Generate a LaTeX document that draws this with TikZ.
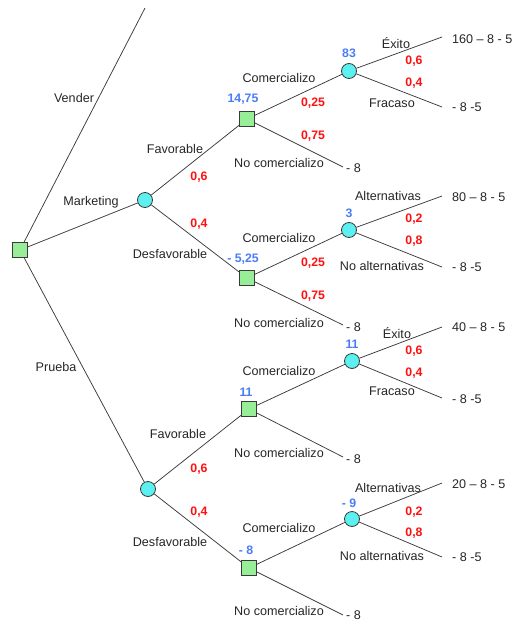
\documentclass[tikz,border=0pt]{standalone}
\usepackage{fontspec}
\setmainfont{Liberation Sans}
\definecolor{sqgreen}{HTML}{98EE98}
\definecolor{chcyan}{HTML}{5CF0F0}
\definecolor{valblue}{HTML}{4A7CF5}
\definecolor{probred}{HTML}{FF1010}
\definecolor{linegray}{HTML}{3A3A3A}
\begin{document}
\begin{tikzpicture}[x=1pt,y=-1pt,
  sq/.style={draw=linegray, fill=sqgreen, rectangle, minimum size=15pt, inner sep=0pt, line width=0.8pt},
  ch/.style={draw=linegray, fill=chcyan, circle, minimum size=15pt, inner sep=0pt, line width=0.8pt},
  edge/.style={draw=linegray, line width=0.75pt},
  lbl/.style={font=\fontsize{12.6}{14}\selectfont, text=black!85, inner sep=0pt},
  prob/.style={font=\bfseries\fontsize{12.3}{14}\selectfont, text=probred, inner sep=0pt},
  val/.style={font=\bfseries\fontsize{12.3}{14}\selectfont, text=valblue, inner sep=0pt},
  term/.style={font=\fontsize{12.6}{14}\selectfont, text=black!85, inner sep=0pt, anchor=west}]
\useasboundingbox (0,0) rectangle (513,624);
% decision and chance nodes
\node[sq] (r) at (20,250) {};
\coordinate (v) at (145,8);
\node[ch] (m) at (145,200) {};
\node[ch] (p) at (148,489) {};
\node[sq] (mf) at (247,119) {};
\node[sq] (md) at (247,278) {};
\node[sq] (pf) at (249,409) {};
\node[sq] (pd) at (249,568) {};
\node[ch] (c1) at (349,71) {};
\node[ch] (c2) at (349,230) {};
\node[ch] (c3) at (352,361) {};
\node[ch] (c4) at (352,519) {};
% end points
\coordinate (e1a) at (442,37);  \coordinate (e1b) at (442,107);
\coordinate (n1) at (343,167);
\coordinate (e2a) at (442,196); \coordinate (e2b) at (442,267);
\coordinate (n2) at (343,325);
\coordinate (e3a) at (442,327); \coordinate (e3b) at (442,398);
\coordinate (n3) at (343,457);
\coordinate (e4a) at (442,483); \coordinate (e4b) at (442,557);
\coordinate (n4) at (343,615);
% connectors
\draw[edge] (r) -- (v);
\draw[edge] (r) -- (m);
\draw[edge] (r) -- (p);
\draw[edge] (m) -- (mf);
\draw[edge] (m) -- (md);
\draw[edge] (p) -- (pf);
\draw[edge] (p) -- (pd);
\draw[edge] (mf) -- (c1);
\draw[edge] (mf) -- (n1);
\draw[edge] (md) -- (c2);
\draw[edge] (md) -- (n2);
\draw[edge] (pf) -- (c3);
\draw[edge] (pf) -- (n3);
\draw[edge] (pd) -- (c4);
\draw[edge] (pd) -- (n4);
\draw[edge] (c1) -- (e1a);
\draw[edge] (c1) -- (e1b);
\draw[edge] (c2) -- (e2a);
\draw[edge] (c2) -- (e2b);
\draw[edge] (c3) -- (e3a);
\draw[edge] (c3) -- (e3b);
\draw[edge] (c4) -- (e4a);
\draw[edge] (c4) -- (e4b);
% first level labels
\node[lbl] (tv) at (74,98) {Vender};
\node[lbl] (tm) at (91,202) {Marketing};
\node[lbl] (tp) at (56,367) {Prueba};
% marketing branch
\node[lbl] (tmf) at (175,149) {Favorable};
\node[prob] (pmf) at (199,177) {0,6};
\node[prob] (pmd) at (199,224) {0,4};
\node[lbl] (tmd) at (170,254) {Desfavorable};
\node[val] (vmf) at (243,99) {14,75};
\node[val] (vmd) at (243,259) {- 5,25};
\node[lbl] (tc1) at (279,78) {Comercializo};
\node[prob] (p25a) at (313,103) {0,25};
\node[prob] (p75a) at (313,136) {0,75};
\node[lbl] (tnc1) at (279,163) {No comercializo};
\node[term] (tn1) at (346,168) {- 8};
\node[val] (vc1) at (349,53) {83};
\node[lbl] (tex1) at (396,43) {Éxito};
\node[prob] (p1a) at (414,61) {0,6};
\node[prob] (p1b) at (414,83) {0,4};
\node[lbl] (tfr1) at (392,103) {Fracaso};
\node[term] (te1a) at (452,39) {160 – 8 - 5};
\node[term] (te1b) at (452,107) {- 8 -5};
\node[lbl] (tc2) at (279,238) {Comercializo};
\node[prob] (p25b) at (313,263) {0,25};
\node[prob] (p75b) at (313,296) {0,75};
\node[lbl] (tnc2) at (279,323) {No comercializo};
\node[term] (tn2) at (346,327) {- 8};
\node[val] (vc2) at (349,213) {3};
\node[lbl] (tal2) at (388,196) {Alternativas};
\node[prob] (p2a) at (414,219) {0,2};
\node[prob] (p2b) at (414,241) {0,8};
\node[lbl] (tna2) at (382,266) {No alternativas};
\node[term] (te2a) at (452,197) {80 – 8 - 5};
\node[term] (te2b) at (452,267) {- 8 -5};
% prueba branch
\node[lbl] (tpf) at (178,434) {Favorable};
\node[prob] (ppf) at (199,469) {0,6};
\node[prob] (ppd) at (199,512) {0,4};
\node[lbl] (tpd) at (170,542) {Desfavorable};
\node[val] (vpf) at (246,392) {11};
\node[val] (vpd) at (246,550) {- 8};
\node[lbl] (tc3) at (279,371) {Comercializo};
\node[lbl] (tnc3) at (279,453) {No comercializo};
\node[term] (tn3) at (346,459) {- 8};
\node[val] (vc3) at (352,344) {11};
\node[lbl] (tex3) at (397,333) {Éxito};
\node[prob] (p3a) at (414,351) {0,6};
\node[prob] (p3b) at (414,373) {0,4};
\node[lbl] (tfr3) at (392,391) {Fracaso};
\node[term] (te3a) at (452,327) {40 – 8 - 5};
\node[term] (te3b) at (452,399) {- 8 -5};
\node[lbl] (tc4) at (279,528) {Comercializo};
\node[lbl] (tnc4) at (279,611) {No comercializo};
\node[term] (tn4) at (346,615) {- 8};
\node[val] (vc4) at (349,503) {- 9};
\node[lbl] (tal4) at (388,488) {Alternativas};
\node[prob] (p4a) at (414,512) {0,2};
\node[prob] (p4b) at (414,533) {0,8};
\node[lbl] (tna4) at (382,556) {No alternativas};
\node[term] (te4a) at (452,484) {20 – 8 - 5};
\node[term] (te4b) at (452,557) {- 8 -5};
\end{tikzpicture}
\end{document}
